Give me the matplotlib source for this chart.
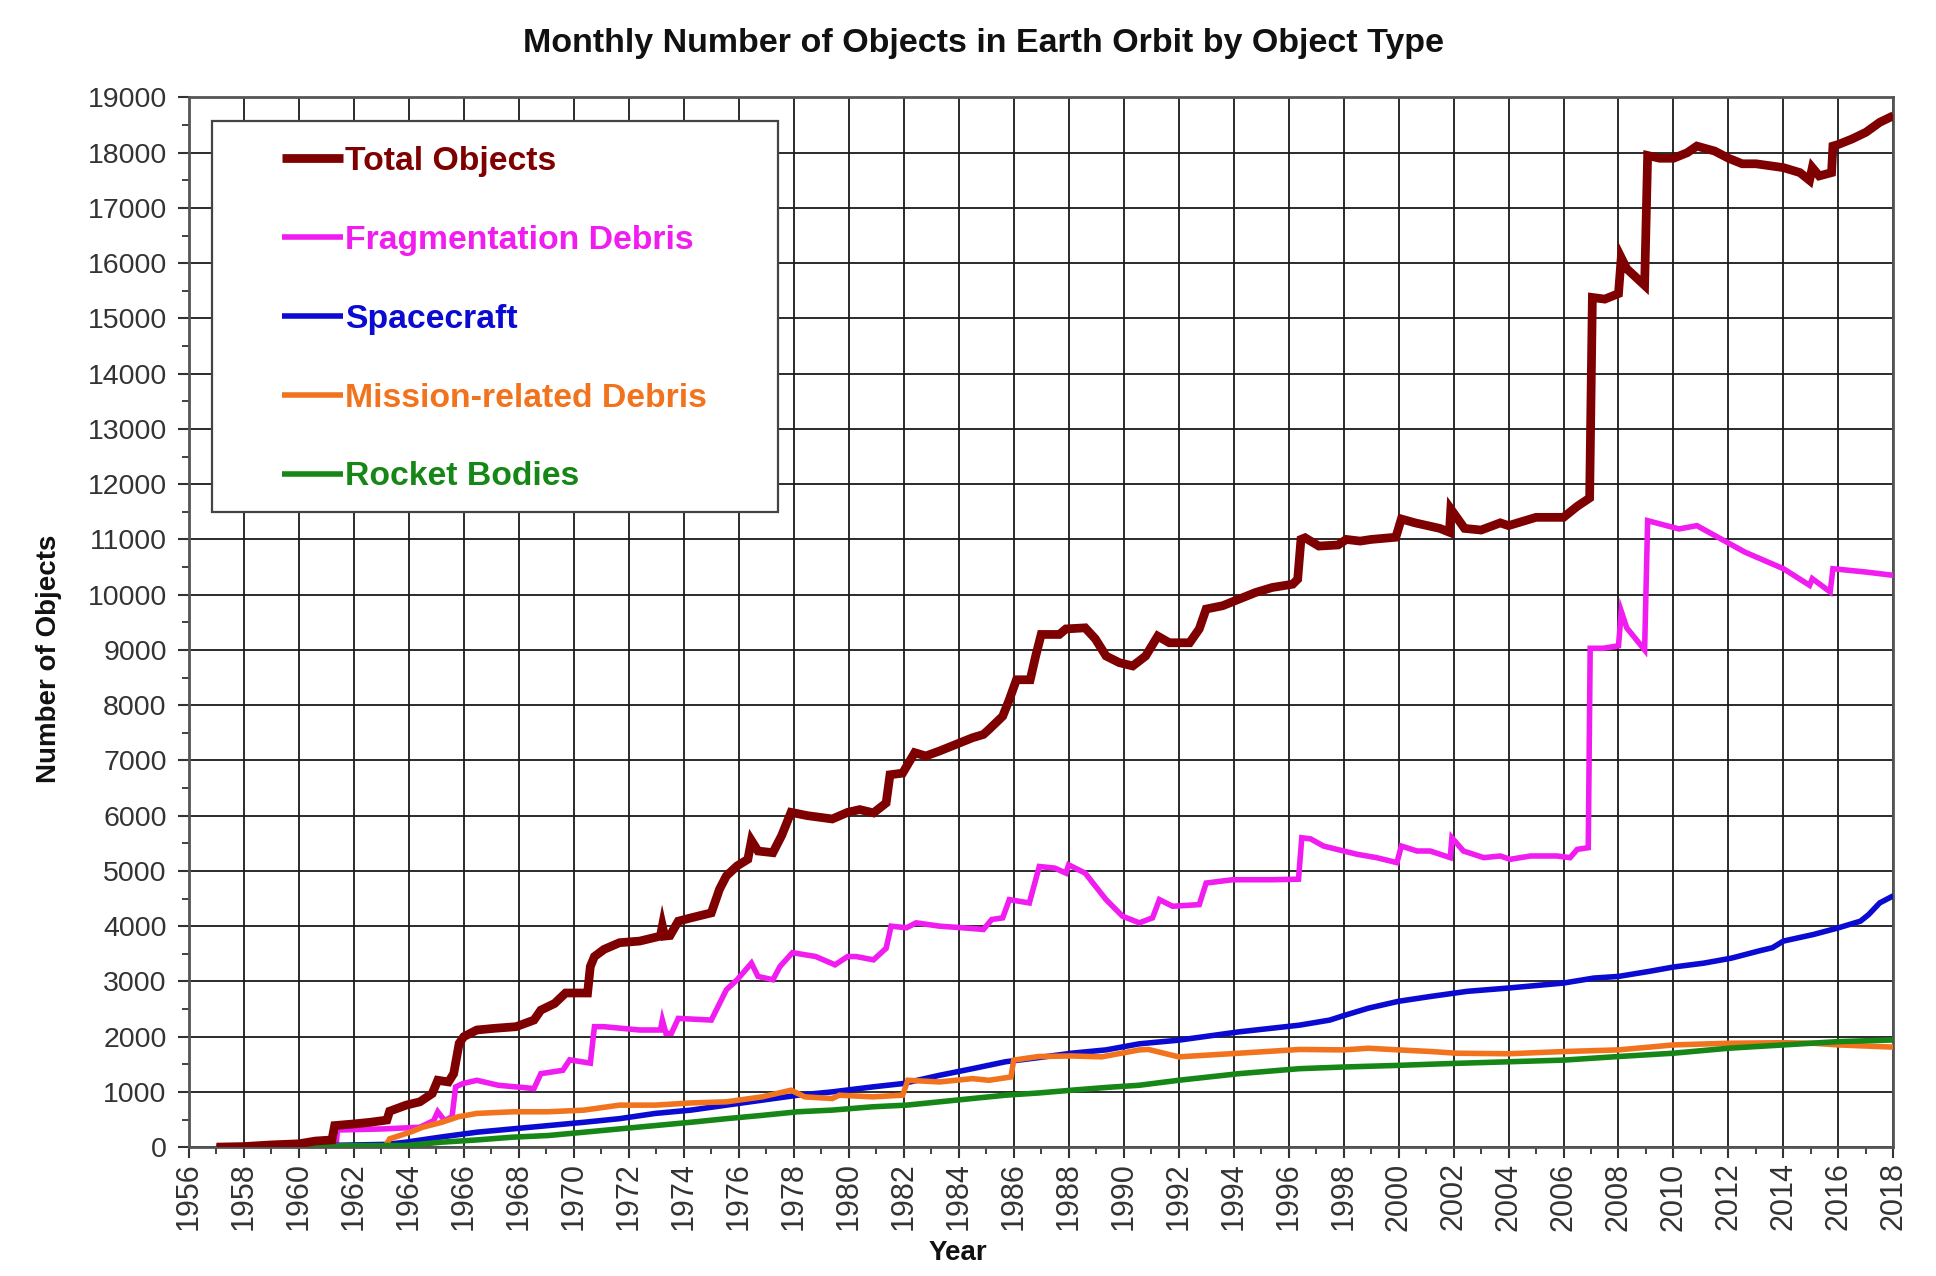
import matplotlib
matplotlib.use('Agg')
import matplotlib.pyplot as plt
from matplotlib.ticker import MultipleLocator
from matplotlib.patches import Rectangle

plt.rcParams['font.family'] = ['Liberation Sans', 'DejaVu Sans']

# ---------------- data ----------------
total_years = [1957.0, 1958.0, 1959.0, 1960.0, 1960.6, 1961.2, 1961.3, 1962.0, 1962.6, 1963.2,
               1963.3, 1963.9, 1964.4, 1964.85, 1965.05, 1965.44, 1965.63, 1965.83, 1966.0, 1966.47,
               1967.1, 1967.9, 1968.55, 1968.8, 1969.3, 1969.7, 1970.5, 1970.6, 1970.75, 1971.1,
               1971.66, 1972.4, 1973.15, 1973.22, 1973.3, 1973.5, 1973.8, 1974.26, 1975.0, 1975.3,
               1975.55, 1975.94, 1976.33, 1976.46, 1976.7, 1977.24, 1977.56, 1977.9, 1978.5, 1979.4,
               1979.96, 1980.4, 1980.9, 1981.36, 1981.5, 1981.96, 1982.4, 1982.8, 1983.3, 1983.9,
               1984.5, 1984.9, 1985.1, 1985.6, 1985.84, 1986.1, 1986.6, 1986.8, 1987.0, 1987.66,
               1987.9, 1988.6, 1988.97, 1989.36, 1989.84, 1990.33, 1990.8, 1991.24, 1991.66, 1992.4,
               1992.75, 1993.0, 1993.6, 1994.2, 1994.8, 1995.4, 1996.15, 1996.33, 1996.45, 1996.6,
               1997.1, 1997.8, 1998.1, 1998.6, 1999.0, 1999.9, 2000.1, 2000.6, 2001.5, 2001.85,
               2001.9, 2002.4, 2003.0, 2003.7, 2004.0, 2005.0, 2006.0, 2006.5, 2006.95, 2007.05,
               2007.5, 2008.0, 2008.1, 2008.3, 2008.95, 2009.06, 2009.5, 2010.0, 2010.5, 2010.85,
               2011.5, 2012.0, 2012.5, 2013.0, 2014.0, 2014.6, 2014.95, 2015.05, 2015.3, 2015.75,
               2015.8, 2016.0, 2016.5, 2017.0, 2017.5, 2018.0]
total_vals = [0, 10, 40, 60, 110, 130, 390, 420, 450, 490,
              650, 760, 820, 970, 1210, 1180, 1330, 1880, 2000, 2120,
              2150, 2180, 2300, 2480, 2600, 2790, 2790, 3270, 3450, 3580,
              3700, 3730, 3820, 4000, 3820, 3830, 4090, 4150, 4240, 4670,
              4910, 5090, 5210, 5550, 5360, 5330, 5640, 6060, 6000, 5940,
              6060, 6110, 6050, 6230, 6740, 6770, 7140, 7080, 7170, 7290,
              7410, 7470, 7560, 7800, 8100, 8460, 8460, 8890, 9280, 9280,
              9380, 9400, 9200, 8890, 8770, 8710, 8890, 9250, 9130, 9130,
              9380, 9740, 9800, 9920, 10040, 10130, 10190, 10280, 11000, 11030,
              10880, 10900, 11000, 10970, 11000, 11040, 11370, 11300, 11200, 11130,
              11550, 11200, 11170, 11300, 11250, 11400, 11400, 11600, 11750, 15380,
              15350, 15450, 16100, 15900, 15600, 17950, 17900, 17900, 18000, 18120,
              18030, 17900, 17800, 17800, 17730, 17640, 17500, 17730, 17580, 17640,
              18120, 18150, 18250, 18370, 18550, 18670]

frag_years = [1957.0, 1961.35, 1961.4, 1963.1, 1964.4, 1964.9, 1965.05, 1965.3, 1965.57, 1965.7,
              1965.96, 1966.47, 1967.25, 1968.55, 1968.8, 1969.6, 1969.85, 1970.6, 1970.75, 1971.1,
              1972.4, 1973.15, 1973.22, 1973.35, 1973.55, 1973.8, 1975.0, 1975.55, 1975.94, 1976.46,
              1976.7, 1977.24, 1977.5, 1977.95, 1978.8, 1979.5, 1979.96, 1980.27, 1980.9, 1981.36,
              1981.54, 1982.1, 1982.45, 1983.3, 1984.15, 1984.9, 1985.2, 1985.6, 1985.84, 1986.57,
              1986.93, 1987.5, 1987.9, 1988.0, 1988.6, 1989.36, 1989.96, 1990.57, 1991.05, 1991.3,
              1991.78, 1992.75, 1993.0, 1993.96, 1995.4, 1996.36, 1996.48, 1996.8, 1997.27, 1998.0,
              1998.5, 1999.2, 1999.94, 2000.1, 2000.67, 2001.15, 2001.88, 2001.94, 2002.36, 2003.1,
              2003.7, 2004.06, 2004.8, 2005.76, 2006.24, 2006.5, 2006.9, 2006.97, 2007.45, 2008.0,
              2008.1, 2008.3, 2008.95, 2009.06, 2010.2, 2010.85, 2012.6, 2014.0, 2014.95, 2015.05,
              2015.7, 2015.8, 2017.0, 2018.0]
frag_vals = [0, 0, 310, 330, 360, 480, 640, 480, 550, 1090,
             1150, 1210, 1120, 1060, 1330, 1390, 1580, 1520, 2180, 2180,
             2120, 2120, 2300, 2060, 2060, 2330, 2300, 2850, 3030, 3330,
             3090, 3030, 3270, 3520, 3450, 3300, 3450, 3450, 3390, 3600,
             4000, 3970, 4060, 4000, 3970, 3940, 4120, 4150, 4480, 4420,
             5080, 5050, 4960, 5110, 4960, 4480, 4180, 4060, 4150, 4480,
             4360, 4390, 4780, 4840, 4840, 4850, 5600, 5580, 5450, 5360,
             5300, 5240, 5150, 5450, 5360, 5360, 5240, 5600, 5360, 5240,
             5270, 5210, 5270, 5270, 5240, 5390, 5420, 9030, 9030, 9075,
             9700, 9400, 9000, 11340, 11190, 11250, 10770, 10470, 10170, 10290,
             10050, 10470, 10410, 10350]

sc_years = [1957.8, 1960.0, 1961.0, 1963.2, 1963.9, 1965.2, 1966.47, 1967.77, 1969.07, 1970.37,
            1971.66, 1972.96, 1974.26, 1975.55, 1976.85, 1978.15, 1979.4, 1980.87, 1981.96, 1983.3,
            1984.5, 1985.7, 1986.9, 1988.1, 1989.36, 1990.57, 1992.0, 1994.2, 1996.4, 1997.5,
            1998.0, 1998.9, 2000.0, 2001.2, 2002.5, 2004.0, 2006.0, 2007.1, 2008.0, 2009.1,
            2010.0, 2011.1, 2012.1, 2013.1, 2013.6, 2014.0, 2015.1, 2016.0, 2016.8, 2017.1,
            2017.5, 2018.0]
sc_vals = [0, 20, 30, 50, 90, 185, 270, 330, 390, 450,
           515, 610, 670, 760, 850, 940, 1000, 1090, 1150, 1300,
           1420, 1545, 1620, 1700, 1760, 1870, 1936, 2087, 2208, 2300,
           2380, 2515, 2640, 2730, 2820, 2880, 2970, 3060, 3090, 3180,
           3260, 3330, 3420, 3550, 3610, 3730, 3850, 3970, 4090, 4210,
           4420, 4550]

mrd_years = [1958.0, 1963.15, 1963.3, 1964.1, 1964.5, 1965.2, 1965.8, 1966.47, 1967.8, 1969.07,
             1970.37, 1971.66, 1972.96, 1974.26, 1975.55, 1976.85, 1977.9, 1978.4, 1979.4, 1979.66,
             1980.87, 1981.96, 1982.15, 1983.3, 1984.5, 1985.1, 1985.9, 1986.0, 1986.9, 1988.1,
             1989.2, 1990.57, 1990.9, 1992.0, 1994.2, 1996.4, 1998.0, 1998.9, 2000.0, 2001.2,
             2002.1, 2004.0, 2006.0, 2008.0, 2010.0, 2012.0, 2014.0, 2015.1, 2016.0, 2018.0]
mrd_vals = [0, 20, 150, 280, 360, 450, 550, 610, 640, 640,
            670, 760, 760, 800, 820, 910, 1030, 910, 880, 940,
            910, 940, 1210, 1180, 1240, 1210, 1270, 1575, 1640, 1650,
            1634, 1760, 1768, 1634, 1700, 1768, 1760, 1790, 1760, 1730,
            1700, 1690, 1730, 1760, 1850, 1880, 1890, 1880, 1850, 1810]

rb_years = [1957.0, 1960.0, 1963.9, 1965.2, 1966.47, 1967.77, 1969.07, 1970.37, 1971.66, 1972.96,
            1974.26, 1975.55, 1976.85, 1978.15, 1979.4, 1980.87, 1982.1, 1983.3, 1984.5, 1985.7,
            1986.9, 1988.1, 1989.36, 1990.57, 1992.0, 1994.2, 1996.4, 1998.0, 2000.0, 2002.0,
            2004.0, 2006.0, 2008.0, 2010.0, 2012.0, 2014.0, 2016.0, 2018.0]
rb_vals = [0, 20, 30, 90, 130, 180, 210, 270, 330, 390,
           450, 515, 575, 640, 670, 730, 760, 820, 880, 940,
           980, 1030, 1080, 1120, 1210, 1330, 1420, 1450, 1480, 1515,
           1545, 1575, 1640, 1700, 1790, 1850, 1910, 1940]

labels = ['Total Objects', 'Fragmentation Debris', 'Spacecraft',
          'Mission-related Debris', 'Rocket Bodies']
colors = ['#7f0000', '#f01cf0', '#0a0ad2', '#f2731e', '#168616']

x_ticks = list(range(1956, 2019, 2))
y_ticks = list(range(0, 19001, 1000))

# ---------------- figure ----------------
fig = plt.figure(figsize=(19.36, 12.76), dpi=100)
ax = fig.add_axes([0.0976, 0.101, 0.8804, 0.8226])
ax.set_xlim(1956, 2018)
ax.set_ylim(0, 19000)
ax.set_xticks(x_ticks)
ax.set_yticks(y_ticks)
ax.xaxis.set_minor_locator(MultipleLocator(1))
ax.yaxis.set_minor_locator(MultipleLocator(500))
ax.grid(True, which='major', color='#1a1a1a', lw=1.3)
ax.set_axisbelow(True)
ax.tick_params(which='major', direction='out', length=8, width=1.5, color='#333',
               labelsize=20.5, labelcolor='#333')
ax.tick_params(axis='x', which='major', labelrotation=90, labelsize=22, pad=3)
ax.tick_params(axis='y', which='major', pad=8)
ax.tick_params(which='minor', direction='out', length=5, width=1.3, color='#333')
for s in ax.spines.values():
    s.set_color('#555555')
    s.set_linewidth(2)

series = [(total_years, total_vals), (frag_years, frag_vals), (sc_years, sc_vals),
          (mrd_years, mrd_vals), (rb_years, rb_vals)]
widths = [6.3, 4.0, 4.0, 4.0, 4.0]
zorders = [7, 3, 4, 5, 6]
handles = []
for (xs, ys), lab, c, w, z in zip(series, labels, colors, widths, zorders):
    ln, = ax.plot(xs, ys, color=c, lw=w, label=lab, zorder=z,
                  solid_joinstyle='miter', solid_capstyle='butt')
    handles.append(ln)

# legend box
box = Rectangle((0.0135, 0.605), 0.3322, 0.373, transform=ax.transAxes,
                facecolor='white', edgecolor='#444444', lw=1.6, zorder=8)
ax.add_patch(box)
leg = ax.legend(handles, labels, loc='upper left', bbox_to_anchor=(0.0545, 0.954),
                frameon=False, handlelength=1.8, handletextpad=0.07,
                labelspacing=1.42, borderaxespad=0, borderpad=0,
                prop={'weight': 'bold', 'size': 24.3})
leg.set_zorder(9)
for t, c in zip(leg.get_texts(), colors):
    t.set_color(c)

fig.text(0.508, 0.966, 'Monthly Number of Objects in Earth Orbit by Object Type',
         ha='center', va='center', fontsize=24.5, fontweight='bold', color='#111')
fig.text(0.0253, 0.484, 'Number of Objects', rotation=90, ha='center', va='center',
         fontsize=20, fontweight='bold', color='#111')
fig.text(0.495, 0.018, 'Year', ha='center', va='center', fontsize=20,
         fontweight='bold', color='#111')

fig.savefig('out.png', dpi=100, facecolor='white')
